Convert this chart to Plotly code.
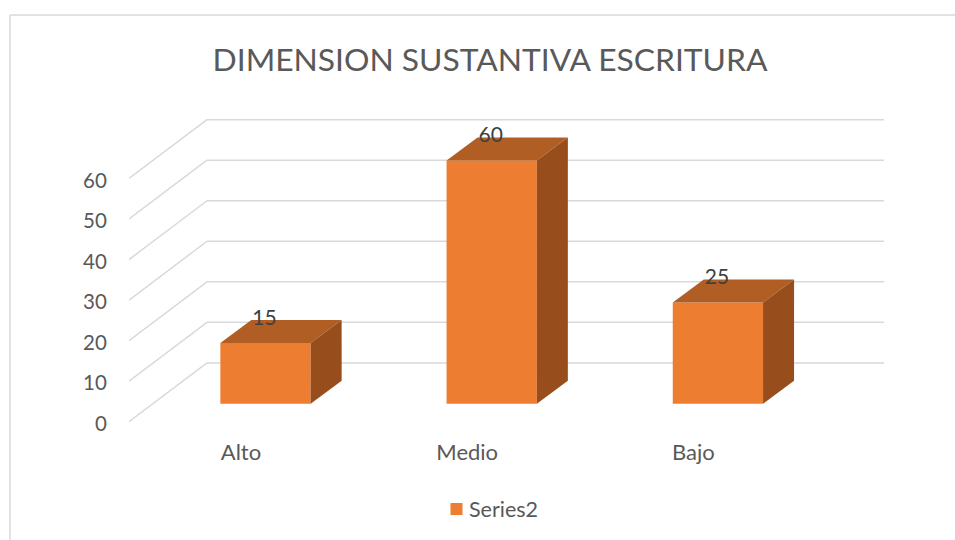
import plotly.graph_objects as go

# Data
categories = ["Alto", "Medio", "Bajo"]
values = [15, 60, 25]
series_name = "Series2"
y_ticks = [0, 10, 20, 30, 40, 50, 60]
title_text = "DIMENSION SUSTANTIVA ESCRITURA"

# Layout geometry (pixels in the 955x540 page)
W, H = 955, 540
PL, PR, PT, PB = 129, 884, 100, 430   # plot rectangle
PX_PER_CAT = 226.2
PX_PER_UNIT = 4.0667
ZERO_PX = 422.7        # pixel row of value 0 on the front edge
CAT0_PX = 265.5        # pixel column of first bar's centre

x_range = [(PL - CAT0_PX) / PX_PER_CAT, (PR - CAT0_PX) / PX_PER_CAT]
y_range = [(ZERO_PX - PB) / PX_PER_UNIT, (ZERO_PX - PT) / PX_PER_UNIT]

# Pseudo-3D projection, converted to axis units
WALL_DX = 78 / PX_PER_CAT
WALL_DY = 59 / PX_PER_UNIT
BAR_BASE = 18 / PX_PER_UNIT
BAR_W = 90.3 / PX_PER_CAT
BAR_DX = 31 / PX_PER_CAT
BAR_DY = 23 / PX_PER_UNIT
LABEL_SHIFT = -24.5 / PX_PER_CAT
VALUE_DX = -1 / PX_PER_CAT
VALUE_DY = 23.5 / PX_PER_UNIT

FRONT, TOP, SIDE = "#ED7D31", "#B15E24", "#974E1C"
GRID, TEXT, VALUE_TEXT = "#D9D9D9", "#595959", "#404040"
FONT = "Lato, Carlito, Calibri, sans-serif"

fig = go.Figure()

# Front faces
fig.add_trace(go.Bar(
    x=list(range(len(categories))), y=values, base=BAR_BASE, width=BAR_W,
    marker=dict(color=FRONT, line=dict(width=0)), name=series_name,
    showlegend=True, hoverinfo="skip",
))

# Top and side faces
for i, v in enumerate(values):
    l, r = i - BAR_W / 2, i + BAR_W / 2
    b, t = BAR_BASE, BAR_BASE + v
    fig.add_trace(go.Scatter(
        x=[l, r, r + BAR_DX, l + BAR_DX, l],
        y=[t, t, t + BAR_DY, t + BAR_DY, t],
        mode="lines", fill="toself", fillcolor=TOP, line=dict(width=0),
        showlegend=False, hoverinfo="skip",
    ))
    fig.add_trace(go.Scatter(
        x=[r, r + BAR_DX, r + BAR_DX, r, r],
        y=[b, b + BAR_DY, t + BAR_DY, t, b],
        mode="lines", fill="toself", fillcolor=SIDE, line=dict(width=0),
        showlegend=False, hoverinfo="skip",
    ))

# Value labels
fig.add_trace(go.Scatter(
    x=[i + VALUE_DX for i in range(len(values))],
    y=[v + BAR_BASE + VALUE_DY for v in values],
    mode="text", text=[str(v) for v in values], textposition="middle center",
    textfont=dict(family=FONT, size=21, color=VALUE_TEXT),
    showlegend=False, hoverinfo="skip", cliponaxis=False,
))

# Walls: each gridline runs along the side wall, then along the back wall
shapes = []
for v in y_ticks:
    shapes.append(dict(type="line", xref="x", yref="y", layer="below",
                       x0=x_range[0], y0=v, x1=x_range[0] + WALL_DX, y1=v + WALL_DY,
                       line=dict(color=GRID, width=1.5)))
    shapes.append(dict(type="line", xref="x", yref="y", layer="below",
                       x0=x_range[0] + WALL_DX, y0=v + WALL_DY, x1=x_range[1], y1=v + WALL_DY,
                       line=dict(color=GRID, width=1.5)))

# Chart frame (clipped by the page on the right and bottom)
def px(x):
    return (x - PL) / (PR - PL)
def py(y):
    return (PB - y) / (PB - PT)
FRAME_X, FRAME_Y = 10, 14.7
shapes.append(dict(type="line", xref="paper", yref="paper", layer="below",
                   x0=px(FRAME_X), y0=py(FRAME_Y), x1=px(W + 5), y1=py(FRAME_Y),
                   line=dict(color=GRID, width=1.5)))
shapes.append(dict(type="line", xref="paper", yref="paper", layer="below",
                   x0=px(FRAME_X), y0=py(FRAME_Y), x1=px(FRAME_X), y1=py(H + 5),
                   line=dict(color=GRID, width=1.5)))

fig.update_layout(
    width=W, height=H, autosize=False,
    margin=dict(l=PL, r=W - PR, t=PT, b=H - PB, pad=0),
    paper_bgcolor="white", plot_bgcolor="rgba(0,0,0,0)",
    title=dict(text=title_text, x=490 / W, xanchor="center", y=1 - 59.5 / H, yanchor="middle",
               font=dict(family=FONT, size=31.8, color=TEXT)),
    xaxis=dict(range=x_range, tickmode="array",
               tickvals=[i + LABEL_SHIFT for i in range(len(categories))], ticktext=categories,
               showgrid=False, zeroline=False, showline=False,
               ticks="outside", ticklen=4, tickcolor="rgba(0,0,0,0)",
               tickfont=dict(family=FONT, size=22, color=TEXT)),
    yaxis=dict(range=y_range, tickmode="array", tickvals=y_ticks,
               showgrid=False, zeroline=False, showline=False,
               ticks="outside", ticklen=17, tickcolor="rgba(0,0,0,0)",
               ticklabelshift=2,
               tickfont=dict(family=FONT, size=20.5, color=TEXT)),
    legend=dict(x=px(429), y=py(509), xanchor="left", yanchor="middle", orientation="h",
                bgcolor="rgba(0,0,0,0)", font=dict(family=FONT, size=21.5, color=TEXT)),
    shapes=shapes,
    showlegend=True,
)

post = """
document.body.style.margin = '0';
document.body.style.overflow = 'hidden';
document.querySelectorAll('.legendsymbols').forEach(function (g) {
  g.setAttribute('transform', 'translate(7.5,0)');
});
"""
fig.write_html("out.html", config={"displayModeBar": False}, post_script=post)
